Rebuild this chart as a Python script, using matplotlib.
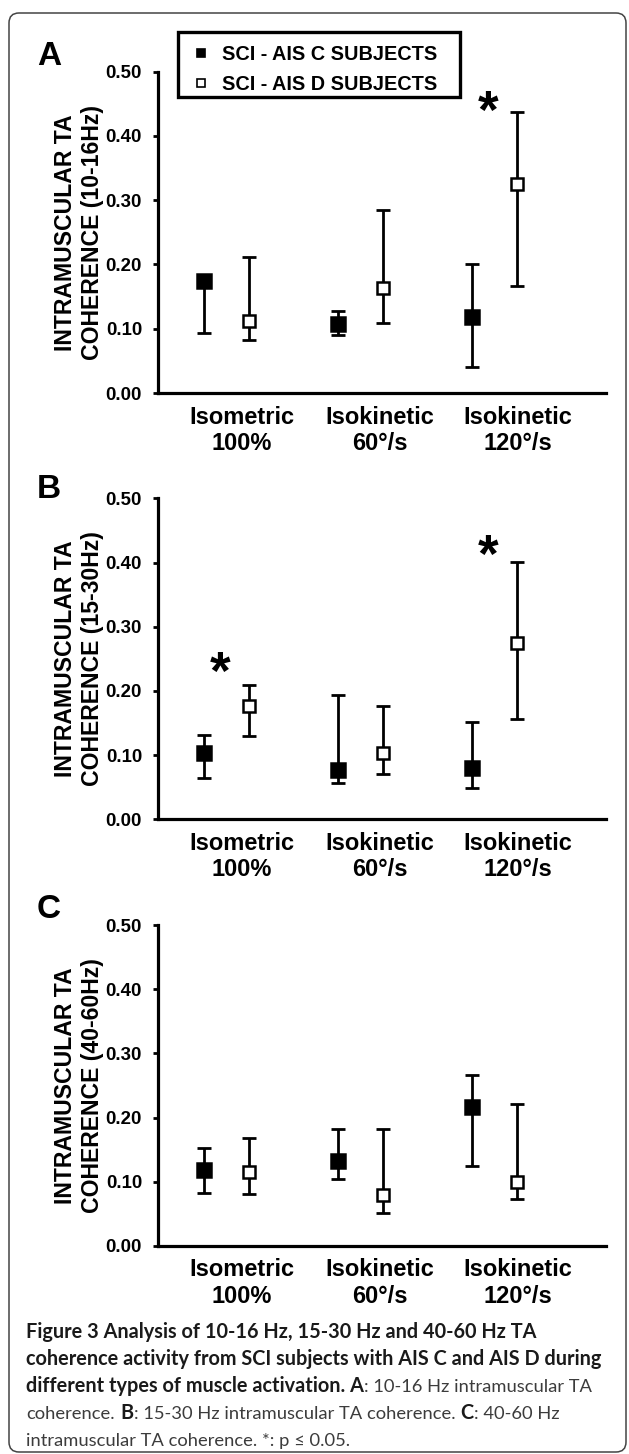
import numpy as np
import matplotlib
matplotlib.use('Agg')
import matplotlib.pyplot as plt
from matplotlib.patches import FancyBboxPatch, Rectangle
from matplotlib.lines import Line2D

plt.rcParams['font.family'] = ['Liberation Sans', 'DejaVu Sans']

# -------------------------------------------------------------------
# data (median + error range)
# -------------------------------------------------------------------
categories = ['Isometric\n100%', 'Isokinetic\n60\u00b0/s', 'Isokinetic\n120\u00b0/s']
yticks = [0.0, 0.1, 0.2, 0.3, 0.4, 0.5]
series_names = ['SCI - AIS C SUBJECTS', 'SCI - AIS D SUBJECTS']

# panel A: 10-16 Hz
a_c_mid = [0.174, 0.107, 0.118]
a_c_lo = [0.093, 0.090, 0.040]
a_c_hi = [0.183, 0.128, 0.200]
a_d_mid = [0.112, 0.163, 0.325]
a_d_lo = [0.082, 0.109, 0.167]
a_d_hi = [0.211, 0.285, 0.437]
a_star_cat = [2]
a_star_y = [0.46]

# panel B: 15-30 Hz
b_c_mid = [0.103, 0.077, 0.080]
b_c_lo = [0.065, 0.057, 0.049]
b_c_hi = [0.132, 0.193, 0.152]
b_d_mid = [0.177, 0.103, 0.275]
b_d_lo = [0.130, 0.071, 0.157]
b_d_hi = [0.209, 0.177, 0.401]
b_star_cat = [0, 2]
b_star_y = [0.25, 0.432]

# panel C: 40-60 Hz
c_c_mid = [0.119, 0.132, 0.217]
c_c_lo = [0.082, 0.105, 0.124]
c_c_hi = [0.153, 0.182, 0.266]
c_d_mid = [0.115, 0.079, 0.099]
c_d_lo = [0.081, 0.051, 0.073]
c_d_hi = [0.169, 0.183, 0.221]
c_star_cat = []
c_star_y = []

# -------------------------------------------------------------------
# figure
# -------------------------------------------------------------------
W, H = 629, 1454
fig = plt.figure(figsize=(W / 100, H / 100), dpi=100)
px = fig.dpi_scale_trans  # inches; 1 px = 0.01 in


def panel(top, bot, letter, letter_base, ylab, c_mid, c_lo, c_hi, d_mid, d_lo, d_hi, star_cat, star_y):
	ax = fig.add_axes([158 / W, 1 - bot / H, 448 / W, (bot - top) / H])
	pos = np.arange(len(categories))
	xc = pos - 0.168
	xd = pos + 0.168
	c_mid = np.array(c_mid); d_mid = np.array(d_mid)
	ax.errorbar(xc, c_mid, yerr=[c_mid - np.array(c_lo), np.array(c_hi) - c_mid], fmt='none',
				ecolor='k', elinewidth=2, capsize=4.8, capthick=2, clip_on=False)
	ax.errorbar(xd, d_mid, yerr=[d_mid - np.array(d_lo), np.array(d_hi) - d_mid], fmt='none',
				ecolor='k', elinewidth=2, capsize=4.8, capthick=2, clip_on=False)
	ax.plot(xc, c_mid, 's', ms=9.5, mfc='k', mec='k', mew=1.8, zorder=4, clip_on=False)
	ax.plot(xd, d_mid, 's', ms=9, mfc='white', mec='k', mew=1.8, zorder=4, clip_on=False)

	for cat, yv in zip(star_cat, star_y):
		ax.annotate('*', xy=(cat - 0.05, yv), xytext=(0, -0.57 * 38), textcoords='offset points',
					ha='center', va='baseline', fontsize=38, fontweight='bold')

	ax.set_xlim(-0.513, 2.83)
	ax.set_ylim(0, 0.5)
	for s in ['top', 'right']:
		ax.spines[s].set_visible(False)
	for s in ['left', 'bottom']:
		ax.spines[s].set_linewidth(2.3)
	ax.set_yticks(yticks)
	ax.set_yticklabels(['%.2f' % v for v in yticks], fontsize=13.4, fontweight='bold')
	ax.tick_params(axis='y', length=3.5, width=2, pad=8, direction='out')
	ax.set_xticks([0.11, 1.14, 2.17])
	ax.set_xticklabels(categories, fontsize=17, fontweight='bold', linespacing=1.2)
	ax.tick_params(axis='x', length=0, pad=9)

	ax.text(-0.177, 0.5, ylab, transform=ax.transAxes, rotation=90, ha='center', va='center',
			fontsize=16.6, fontweight='bold', linespacing=1.2, multialignment='center')
	fig.text(37 / W, 1 - letter_base / H, letter, fontsize=24, fontweight='bold', ha='left', va='baseline')
	return ax


panel(71.7, 393, 'A', 65, 'INTRAMUSCULAR TA\nCOHERENCE (10-16Hz)',
	  a_c_mid, a_c_lo, a_c_hi, a_d_mid, a_d_lo, a_d_hi, a_star_cat, a_star_y)
panel(498.3, 819.3, 'B', 498, 'INTRAMUSCULAR TA\nCOHERENCE (15-30Hz)',
	  b_c_mid, b_c_lo, b_c_hi, b_d_mid, b_d_lo, b_d_hi, b_star_cat, b_star_y)
panel(925, 1246, 'C', 918, 'INTRAMUSCULAR TA\nCOHERENCE (40-60Hz)',
	  c_c_mid, c_c_lo, c_c_hi, c_d_mid, c_d_lo, c_d_hi, c_star_cat, c_star_y)

# legend box (drawn by hand, pixel units)
fig.add_artist(Rectangle((177.7 / 100, (H - 96.6) / 100), 282.3 / 100, 64.9 / 100,
						 transform=px, fill=True, facecolor='white', edgecolor='k', lw=2.4, zorder=5))
for i, name in enumerate(series_names):
	yrow = [53, 83][i]
	fig.add_artist(Line2D([201 / 100], [(H - yrow) / 100], transform=px, marker='s', ms=5.2,
						  mfc=['k', 'white'][i], mec='k', mew=1.2, zorder=6))
	fig.text(221.7 / W, 1 - (yrow + 7) / H, name, fontsize=14.3, fontweight='bold',
			 ha='left', va='baseline', zorder=6)

# rounded frame around the whole figure
fig.add_artist(FancyBboxPatch((9 / 100, 2 / 100), 617 / 100, 1439 / 100, transform=px,
							  boxstyle='round,pad=0,rounding_size=0.1', fill=False,
							  edgecolor='#444444', lw=1.1))

# -------------------------------------------------------------------
# caption (mixed bold / regular pieces)
# -------------------------------------------------------------------
cap_font = ['Lato', 'DejaVu Sans']
cap_size = {True: 14.3, False: 13.2}
cap_lines = [
	[("Figure 3 Analysis of 10-16 Hz, 15-30 Hz and 40-60 Hz TA", True)],
	[("coherence activity from SCI subjects with AIS C and AIS D during", True)],
	[("different types of muscle activation. A", True), (": 10-16 Hz intramuscular TA", False)],
	[("coherence.", False), (" B", True), (": 15-30 Hz intramuscular TA coherence.", False),
	 (" C", True), (": 40-60 Hz", False)],
	[("intramuscular TA coherence. *: p \u2264 0.05.", False)],
]
cap_base = [1338, 1365, 1392, 1419, 1446]

renderer = fig.canvas.get_renderer()


def cap_kw(bold):
	return dict(family=cap_font, fontsize=cap_size[bold], fontweight='bold' if bold else 'normal',
				color='#1a1a1a' if bold else '#3c3c3c', ha='left', va='baseline')


def width_of(s, bold):
	t = fig.text(0, 0, s, **cap_kw(bold))
	w = t.get_window_extent(renderer).width
	t.remove()
	return w


space_w = {b: width_of('a a', b) - width_of('aa', b) for b in (True, False)}

for line, base in zip(cap_lines, cap_base):
	x = 26
	for s, bold in line:
		lead = len(s) - len(s.lstrip(' '))
		x += lead * space_w[bold]
		t = fig.text(x / W, 1 - base / H, s.lstrip(' '), **cap_kw(bold))
		x = t.get_window_extent(renderer).x1 + 0.5

fig.savefig('out.png', dpi=100)
